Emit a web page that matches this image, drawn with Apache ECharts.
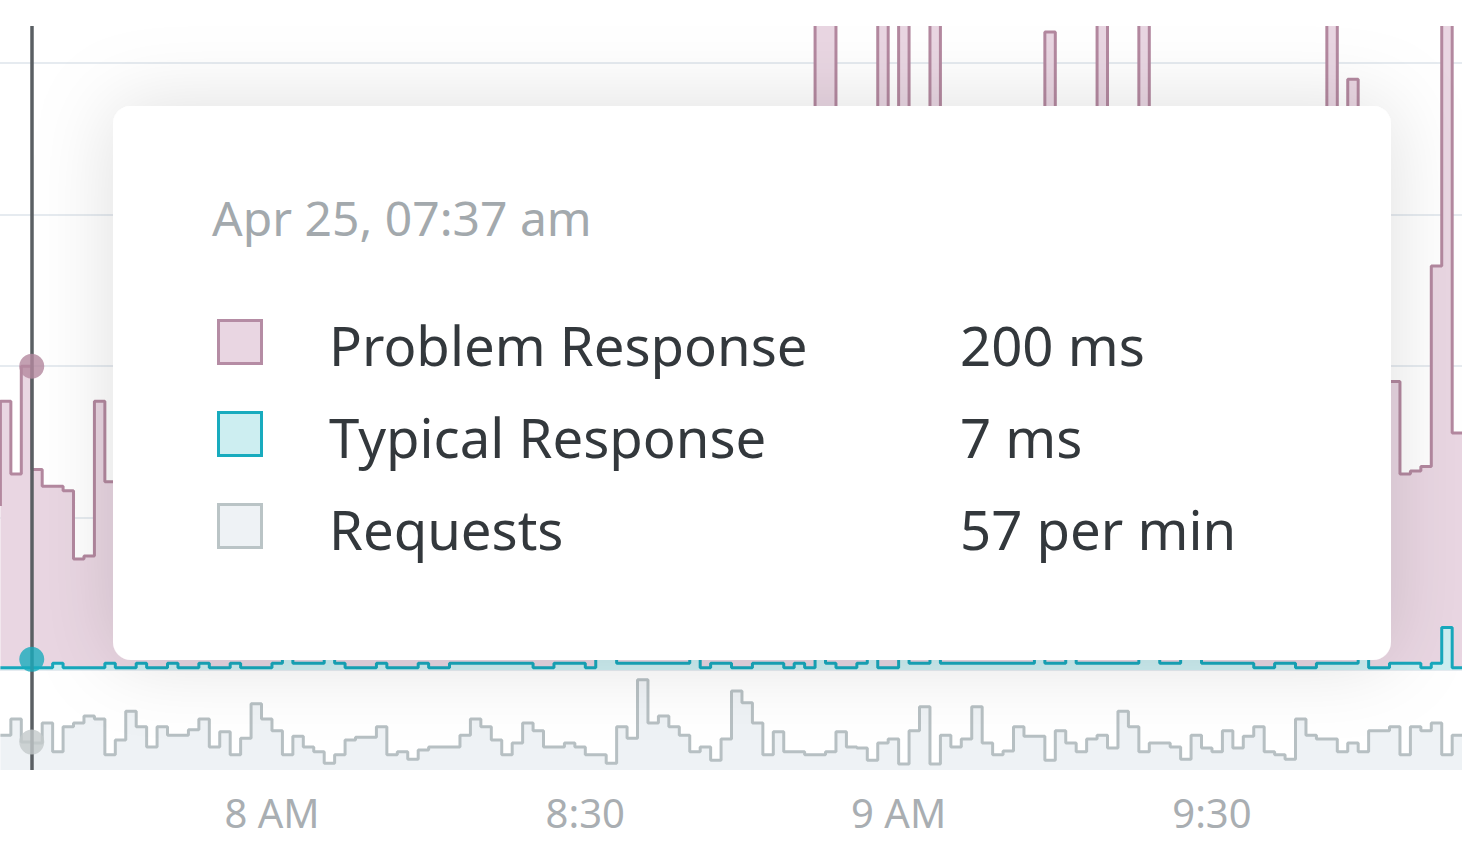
<!DOCTYPE html>
<html><head><meta charset="utf-8">
<script src="https://cdn.jsdelivr.net/npm/echarts@6/dist/echarts.min.js"></script>
<style>
html,body{margin:0;padding:0;background:#fff;width:1462px;height:860px;overflow:hidden}
#c{position:absolute;left:0;top:26px;width:1462px;height:834px}
</style></head><body><div id="c"></div>
<script>
// minutes after 07:00 of the first sample; one sample per minute
const startMinute = 34;
const problemResponse = [
  108,177,129,200,132,121,121,118,73,75,177,124,
  150,210,180,95,140,260,190,120,170,230,140,110,160,200,
  180,130,250,170,120,90,210,160,140,190,
  230,150,120,175,260,140,110,200,170,130,
  160,220,140,180,120,240,190,150,110,170,
  210,160,130,280,190,150,230,170,140,200,
  160,120,250,180,140,210,170,130,220,190,
  150,240,180,560,560,200,160,230,180,560,
  250,560,190,210,560,170,140,220,180,260,
  150,190,230,170,140,420,200,160,240,180,
  560,220,170,190,560,150,210,260,180,140,
  200,170,230,150,190,280,160,210,140,180,
  240,170,560,200,389,160,220,180,190,129,
  131,134,266,560,156
];
const typicalResponse = [
  1.5,1.5,1.5,1.5,1.5,1.5,4.5,1.5,1.5,1.5,1.5,4.5,1.5,1.5,4.5,1.5,1.5,4.5,1.5,1.5,4.5,1.5,1.5,4.5,1.5,1.5,
  1.5,4.5,9,4.5,4.5,4.5,9,4.5,1.5,1.5,1.5,4.5,1.5,1.5,1.5,4.5,1.5,1.5,4.5,4.5,4.5,4.5,
  4.5,4.5,4.5,4.5,1.5,1.5,4.5,4.5,4.5,1.5,
  9,9,4.5,4.5,4.5,4.5,4.5,4.5,4.5,9,
  1.5,4.5,4.5,1.5,1.5,4.5,4.5,4.5,1.5,4.5,
  1.5,9,4.5,1.5,1.5,4.5,9,1.5,1.5,9,
  4.5,4.5,9,4.5,4.5,4.5,4.5,4.5,
  4.5,4.5,4.5,4.5,9,4.5,4.5,9,4.5,4.5,
  4.5,4.5,4.5,4.5,9,9,4.5,4.5,9,9,
  4.5,4.5,4.5,4.5,4.5,1.5,1.5,4.5,4.5,1.5,
  1.5,4.5,4.5,4.5,4.5,9,1.5,1.5,4.5,4.5,
  4.5,1.5,4.5,28,1.5
];
const requests = [
  71,71,104,57,55,96,37,88,96,110,104,31,61,120,88,47,88,71,71,82,104,47,78,31,65,135,
  104,80,31,69,47,37,14,31,61,67,
  67,88,31,37,22,41,47,47,47,71,
  104,88,61,31,55,96,80,47,47,55,
  47,31,31,14,88,65,184,96,110,88,
  71,37,47,20,63,161,137,96,31,78,
  37,37,31,31,37,78,47,45,20,55,
  63,12,80,129,12,71,47,63,129,55,
  31,39,88,69,69,20,80,55,37,63,
  71,45,120,88,37,55,55,47,22,71,
  45,37,80,45,69,88,37,31,22,104,
  71,63,63,37,55,37,80,80,88,31,
  88,80,96,31,71
];
const tickMinutes = [60, 90, 120, 150];
const tickLabels = ['8 AM', '8:30', '9 AM', '9:30'];
const viewStartMinute = 33.96, viewEndMinute = 173.94;
const hoverMinute = 37;
const hoverTitle = 'Apr 25, 07:37 am';
const hoverProblem = 200, hoverTypical = 7, hoverRequests = 57;
const legendNames = ['Problem Response', 'Typical Response', 'Requests'];
const legendValues = ['200 ms', '7 ms', '57 per min'];

const toPairs = arr => arr.map((v, i) => [startMinute + i, v]);
const FONT = '"Noto Sans", "DejaVu Sans", sans-serif';

const chart = echarts.init(document.getElementById('c'), null, {renderer: 'svg'});

const crossLine = {
  silent: true, symbol: ['none', 'none'], animation: false,
  label: {show: false},
  lineStyle: {color: '#5a5f63', width: 3.5, type: 'solid', opacity: 1},
  emphasis: {disabled: true},
  data: [{xAxis: hoverMinute}]
};

const legendFill = ['#e9d6e2', '#cdeef1', '#eef2f5'];
const legendStroke = ['#b58ca4', '#18abbe', '#bac4c6'];
const rowY = [316, 408, 500];

const graphics = [{
  type: 'rect', z: 100,
  shape: {x: 113, y: 80, width: 1278, height: 554, r: 18},
  style: {fill: '#ffffff', shadowBlur: 80, shadowColor: 'rgba(30,40,50,0.13)'}
}, {
  type: 'text', z: 101, x: 212, y: 191,
  style: {text: hoverTitle, fill: '#a3a9ad', font: '48px ' + FONT, verticalAlign: 'middle'}
}];
legendNames.forEach((n, i) => {
  graphics.push({
    type: 'rect', z: 101,
    shape: {x: 218.5, y: rowY[i] - 21.5, width: 43, height: 43},
    style: {fill: legendFill[i], stroke: legendStroke[i], lineWidth: 3}
  });
  graphics.push({
    type: 'text', z: 101, x: 329, y: rowY[i] + 3,
    style: {text: n, fill: '#33383c', font: '54.5px ' + FONT, verticalAlign: 'middle'}
  });
  graphics.push({
    type: 'text', z: 101, x: 960, y: rowY[i] + 3,
    style: {text: legendValues[i], fill: '#33383c', font: '54.5px ' + FONT, verticalAlign: 'middle'}
  });
});

const hiddenAxis = {axisLine: {show: false}, axisTick: {show: false}, axisLabel: {show: false}};

chart.setOption({
  animation: false,
  backgroundColor: '#ffffff',
  grid: [
    {left: 0, right: 0, top: 0, bottom: 190},
    {left: 0, right: 0, top: 644, bottom: 90}
  ],
  xAxis: [
    {type: 'value', gridIndex: 0, min: viewStartMinute, max: viewEndMinute, show: false},
    {type: 'value', gridIndex: 1, min: viewStartMinute, max: viewEndMinute,
     splitNumber: 5, minInterval: 30, maxInterval: 30,
     axisLine: {show: false}, axisTick: {show: false}, splitLine: {show: false},
     axisLabel: {
       margin: 22, fontSize: 40, color: '#a9aeb2', fontFamily: FONT,
       showMinLabel: false, showMaxLabel: false,
       formatter: v => { const k = tickMinutes.indexOf(Math.round(v)); return (k >= 0 && Math.abs(v - tickMinutes[k]) < 0.01) ? tickLabels[k] : ''; }
     }}
  ],
  yAxis: [
    Object.assign({type: 'value', gridIndex: 0, min: 0, max: 424, interval: 100,
     splitLine: {show: true, showMaxLine: false, lineStyle: {color: '#e6ebf0', width: 2}}}, hiddenAxis),
    Object.assign({type: 'value', gridIndex: 1, min: 0, max: 204,
     splitLine: {show: false}}, hiddenAxis)
  ],
  series: [
    {name: 'Problem Response', type: 'line', xAxisIndex: 0, yAxisIndex: 0, step: 'start',
     data: toPairs(problemResponse), showSymbol: false, z: 2,
     lineStyle: {color: '#b3889f', width: 3},
     areaStyle: {color: '#e9d6e2', opacity: 1}},
    {name: 'Typical Response', type: 'line', xAxisIndex: 0, yAxisIndex: 0, step: 'start',
     data: toPairs(typicalResponse), showSymbol: false, z: 3,
     lineStyle: {color: '#17a8bc', width: 3},
     areaStyle: {color: '#cdeef1', opacity: 1},
     markLine: crossLine},
    {name: 'Requests', type: 'line', xAxisIndex: 1, yAxisIndex: 1, step: 'start',
     data: toPairs(requests), showSymbol: false, z: 2,
     lineStyle: {color: '#b7c0c3', width: 3},
     areaStyle: {color: '#eef2f5', opacity: 1},
     markLine: crossLine},
    {type: 'scatter', xAxisIndex: 0, yAxisIndex: 0, z: 10, symbolSize: 25,
     itemStyle: {color: '#b4889f'}, data: [[hoverMinute, hoverProblem]]},
    {type: 'scatter', xAxisIndex: 0, yAxisIndex: 0, z: 10, symbolSize: 25,
     itemStyle: {color: '#19abbd'}, data: [[hoverMinute, hoverTypical]]},
    {type: 'scatter', xAxisIndex: 1, yAxisIndex: 1, z: 10, symbolSize: 25,
     itemStyle: {color: '#c3c9cb'}, data: [[hoverMinute, hoverRequests]]}
  ],
  graphic: {elements: graphics}
});
</script></body></html>
